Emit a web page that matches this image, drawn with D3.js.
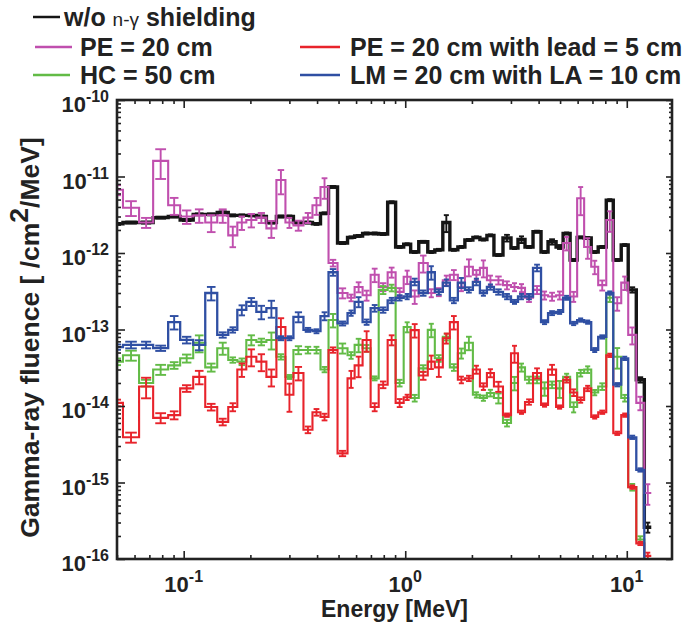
<!DOCTYPE html>
<html>
<head>
<meta charset="utf-8">
<script src="https://cdn.jsdelivr.net/npm/d3@7"></script>
<style>
  body { margin: 0; background: #fff; }
  text { font-family: "Liberation Sans", Arial, Helvetica, sans-serif; }
</style>
</head>
<body>
<div id="vis"></div>
<script>
// bin edges in MeV (shared by all series)
const energyEdges = [0.046, 0.0532, 0.0629, 0.0728, 0.0851, 0.0964, 0.1104, 0.1251, 0.1417, 0.1589,
  0.1746, 0.1917, 0.2128, 0.2362, 0.2621, 0.2879, 0.3128, 0.3472, 0.3813, 0.4145,
  0.4506, 0.4948, 0.549, 0.591, 0.642, 0.698, 0.759, 0.833, 0.905, 0.984,
  1.058, 1.151, 1.264, 1.360, 1.478, 1.590, 1.728, 1.859, 2.020, 2.173,
  2.337, 2.514, 2.762, 3.002, 3.228, 3.472, 3.774, 4.102, 4.412, 4.796,
  5.16, 5.55, 5.97, 6.42, 6.91, 7.43, 8.08, 8.69, 9.44, 10.15,
  11.04, 12.0, 12.9];

// w/o n-gamma shielding
const fluenceBare = [2.4e-12, 2.5e-12, 2.5e-12, 2.9e-12, 3.0e-12, 2.7e-12, 3.2e-12, 3.2e-12, 3.4e-12, 3.1e-12,
  3.1e-12, 3.1e-12, 3.0e-12, 2.5e-12, 3.0e-12, 3.0e-12, 2.5e-12, 2.5e-12, 2.4e-12, 3.3e-12,
  7.3e-12, 1.35e-12, 1.6e-12, 1.67e-12, 1.8e-12, 1.8e-12, 1.77e-12, 4.6e-12, 1.2e-12, 1.3e-12,
  1.03e-12, 1.4e-12, 1.03e-12, 1.1e-12, 2.5e-12, 1.1e-12, 1.2e-12, 1.48e-12, 1.6e-12, 1.5e-12,
  1.7e-12, 9.4e-13, 1.57e-12, 1.16e-12, 1.5e-12, 1.2e-12, 1.9e-12, 1.03e-12, 1.4e-12, 1.2e-12,
  1.8e-12, 8.1e-13, 1.6e-12, 1.57e-12, 1.03e-12, 1.2e-12, 4.9e-12, 8.1e-13, 1.27e-12, 3.3e-13,
  2.2e-14, 2.6e-16];
const errBare = [.03, .03, .03, .03, .03, .03, .03, .03, .03, .03,
  .03, .03, .03, .03, .03, .03, .03, .03, .03, .03,
  .03, .03, .03, .03, .03, .03, .03, .03, .03, .03,
  .03, .03, .03, .03, .25, .03, .03, .03, .03, .03,
  .03, .03, .10, .03, .10, .03, .03, .03, .08, .06,
  .03, .03, .03, .03, .03, .03, .03, .03, .03, .08,
  .08, .15];

// PE = 20 cm
const fluencePE = [6.7e-12, 3.9e-12, 2.5e-12, 1.6e-11, 4.2e-12, 3.0e-12, 3.1e-12, 2.5e-12, 3.1e-12, 1.7e-12,
  2.5e-12, 2.7e-12, 2.9e-12, 2.1e-12, 9.0e-12, 2.5e-12, 2.3e-12, 2.9e-12, 4.2e-12, 7.3e-12,
  7.4e-13, 3.0e-13, 2.6e-13, 3.6e-13, 2.8e-13, 5.2e-13, 3.6e-13, 5.6e-13, 3.1e-13, 4.9e-13,
  2.7e-13, 7.4e-13, 3.0e-13, 3.1e-13, 4.4e-13, 5.2e-13, 3.6e-13, 6.6e-13, 5.2e-13, 6.4e-13,
  4.4e-13, 4.4e-13, 3.8e-13, 3.6e-13, 3.5e-13, 2.6e-13, 3.3e-13, 2.8e-13, 2.7e-13, 2.8e-13,
  1.35e-12, 2.7e-13, 5.2e-12, 1.2e-12, 6.6e-13, 3.8e-13, 2.7e-12, 2.2e-13, 4.1e-13, 8.5e-14,
  1.1e-14, 7.3e-16];
const errPE = [.15, .22, .15, .42, .25, .2, .2, .25, .2, .3,
  .2, .2, .15, .25, .35, .15, .15, .15, .25, .3,
  .1, .15, .1, .15, .15, .2, .12, .15, .12, .2,
  .2, .25, .12, .12, .15, .15, .12, .25, .15, .25,
  .15, .12, .12, .12, .12, .12, .12, .12, .12, .12,
  .2, .15, .4, .3, .2, .15, .3, .2, .2, .25,
  .2, .3];

// HC = 50 cm
const fluenceHC = [3.8e-14, 4.6e-14, 2.0e-14, 3.0e-14, 3.4e-14, 4.2e-14, 6.7e-14, 3.2e-14, 5.7e-14, 4.0e-14,
  3.8e-14, 7.3e-14, 6.9e-14, 7.3e-14, 4.4e-14, 2.4e-14, 5.4e-14, 5.4e-14, 5.4e-14, 3.0e-14,
  1.33e-13, 5.7e-14, 4.6e-14, 6.3e-14, 5.7e-14, 2.3e-14, 3.3e-13, 3.5e-13, 2.0e-14, 1.08e-13,
  1.27e-14, 3.1e-14, 9.9e-14, 4.2e-14, 8.0e-14, 3.2e-14, 4.9e-14, 6.7e-14, 1.4e-14, 1.27e-14,
  1.48e-14, 1.27e-14, 6.0e-15, 2.0e-14, 3.2e-14, 2.2e-14, 2.2e-14, 1.7e-14, 1.9e-14, 1.7e-14,
  2.4e-14, 9.7e-15, 2.7e-14, 3.0e-14, 1.5e-14, 1.8e-14, 2.6e-13, 4.4e-14, 1.27e-14, 8.7e-16,
  1.8e-16, 1e-17];
const errHC = [.1, .15, .1, .15, .1, .12, .25, .12, .18, .08,
  .1, .15, .1, .25, .08, .06, .12, .1, .1, .08,
  .2, .15, .1, .2, .1, .06, .12, .1, .1, .15,
  .1, .1, .2, .1, .1, .1, .15, .2, .08, .08,
  .1, .15, .1, .2, .12, .1, .1, .2, .1, .25,
  .1, .15, .1, .1, .08, .1, .12, .3, .1, .1,
  .1, 0];

// PE = 20 cm with lead = 5 cm
const fluencePELead = [1.1e-14, 3.9e-15, 1.8e-14, 7.0e-15, 7.6e-15, 1.7e-14, 2.4e-14, 9.7e-15, 6.2e-15, 9.7e-15,
  3.0e-14, 4.4e-14, 3.8e-14, 2.4e-14, 1.08e-13, 1.4e-14, 2.7e-14, 4.9e-15, 8.3e-15, 7.2e-15,
  5.4e-14, 2.4e-15, 2.3e-14, 3.4e-14, 7.3e-14, 9.7e-15, 1.9e-14, 7.3e-14, 1.1e-14, 1.3e-14,
  9.8e-14, 2.5e-14, 3.8e-14, 3.2e-14, 7.7e-14, 1.25e-13, 2.2e-14, 2.3e-14, 3.0e-14, 1.8e-14,
  2.7e-14, 1.8e-14, 7.6e-15, 4.9e-14, 8.3e-15, 1.13e-14, 2.7e-14, 1.03e-14, 3.0e-14, 9.7e-15,
  2.2e-14, 1.5e-14, 1.2e-14, 1.7e-14, 7.2e-15, 8.3e-15, 4.6e-14, 4.4e-15, 7.6e-15, 8.7e-16,
  1.6e-16, 1.1e-16];
const errPELead = [.1, .15, .3, .15, .12, .1, .2, .1, .1, .12,
  .2, .25, .25, .25, .3, .4, .2, .1, .1, .1,
  .08, .08, .25, .3, .3, .12, .1, .15, .12, .08,
  .2, .12, .2, .25, .15, .2, .1, .08, .12, .1,
  .12, .15, .05, .25, .05, .08, .15, .05, .15, .05,
  .08, .1, .08, .08, .05, .05, .05, .05, .05, .05,
  .05, .1];

// LM = 20 cm with LA = 10 cm
const fluenceLM = [5.9e-14, 6.3e-14, 6.3e-14, 5.7e-14, 1.25e-13, 7.3e-14, 6.3e-14, 3.0e-13, 8.5e-14, 9.9e-14,
  1.8e-13, 2.3e-13, 1.7e-13, 1.9e-13, 7.7e-14, 7.7e-14, 1.46e-13, 9.9e-14, 9.5e-14, 1.5e-13,
  5.6e-13, 1.2e-13, 1.64e-13, 2.3e-13, 1.25e-13, 1.9e-13, 1.8e-13, 2.4e-13, 2.6e-13, 2.7e-13,
  4.2e-13, 3.0e-13, 5.6e-13, 3.1e-13, 4.1e-13, 2.4e-13, 4.1e-13, 3.3e-13, 4.2e-13, 3.0e-13,
  3.6e-13, 3.1e-13, 2.7e-13, 2.3e-13, 2.7e-13, 2.7e-13, 6.4e-13, 1.25e-13, 1.64e-13, 1.7e-13,
  2.6e-13, 1.2e-13, 1.33e-13, 1.25e-13, 5.4e-14, 8.0e-14, 3.0e-13, 1.9e-14, 4.2e-14, 3.9e-15,
  1.46e-15, 1e-17];
const errLM = [.08, .1, .1, .08, .2, .1, .15, .2, .08, .08,
  .15, .12, .2, .25, .06, .06, .15, .06, .06, .12,
  .1, .06, .08, .15, .08, .1, .08, .08, .08, .08,
  .1, .08, .2, .08, .1, .08, .15, .08, .1, .08,
  .08, .08, .08, .06, .08, .08, .1, .06, .06, .06,
  .06, .05, .05, .05, .06, .05, .05, .05, .05, .05,
  .05, 0];

const xMajorTicks = [0.1, 1, 10];
const xTickExponents = ["-1", "0", "1"];
const yMajorTicks = [1e-10, 1e-11, 1e-12, 1e-13, 1e-14, 1e-15, 1e-16];
const yTickExponents = ["-10", "-11", "-12", "-13", "-14", "-15", "-16"];

const width = 689, height = 630;
const margin = {top: 100, right: 17, bottom: 71, left: 117};

const svg = d3.create("svg")
  .attr("width", width)
  .attr("height", height);

const x = d3.scaleLog()
  .domain([0.05, 16])
  .range([margin.left, width - margin.right]);
const y = d3.scaleLog()
  .domain([1e-16, 1e-10])
  .range([height - margin.bottom, margin.top]);

svg.append("clipPath").attr("id", "plot-clip")
  .append("rect")
  .attr("x", margin.left).attr("y", margin.top)
  .attr("width", width - margin.left - margin.right)
  .attr("height", height - margin.top - margin.bottom);

// minor tick positions (2..9 times each decade)
const xMinor = [];
[0.01, 0.1, 1, 10].forEach(d => { for (let k = 2; k <= 9; k++) { const v = d * k; if (v >= 0.05 && v <= 16) xMinor.push(v); } });
const yMinor = [];
yMajorTicks.slice(1).forEach(d => { for (let k = 2; k <= 9; k++) yMinor.push(d * k); });

const series = [
  {values: fluenceBare, errs: errBare, color: "#151515", w: 3.4},
  {values: fluencePE, errs: errPE, color: "#c04fae", w: 2.1},
  {values: fluenceHC, errs: errHC, color: "#62bb46", w: 2.1},
  {values: fluencePELead, errs: errPELead, color: "#e8232b", w: 2.1},
  {values: fluenceLM, errs: errLM, color: "#2f4fa3", w: 2.3}
];

const plot = svg.append("g").attr("clip-path", "url(#plot-clip)");
const floorV = 1e-18;

series.forEach(s => {
  const g = plot.append("g");
  const n = s.values.length;
  const pts = energyEdges.map((e, i) => [e, s.values[Math.min(i, n - 1)]]);
  const line = d3.line()
    .x(d => x(d[0]))
    .y(d => y(Math.max(d[1], floorV)))
    .curve(d3.curveStepAfter);
  g.append("path")
    .attr("d", line(pts))
    .attr("fill", "none")
    .attr("stroke", s.color)
    .attr("stroke-width", s.w);

  const bins = s.values.map((v, i) => ({v: v, e: s.errs[i], lo: energyEdges[i], hi: energyEdges[i + 1]}))
    .filter(d => d.e > 0);
  const eb = g.selectAll("g.eb").data(bins).join("g").attr("class", "eb")
    .attr("stroke", s.color)
    .attr("stroke-width", 1.9);
  eb.append("line")
    .attr("x1", d => (x(d.lo) + x(d.hi)) / 2)
    .attr("x2", d => (x(d.lo) + x(d.hi)) / 2)
    .attr("y1", d => y(d.v * (1 + d.e)))
    .attr("y2", d => y(Math.max(d.v * (1 - d.e), floorV)));
  [1, -1].forEach(sign => {
    eb.append("line")
      .attr("x1", d => (x(d.lo) + x(d.hi)) / 2 - (x(d.hi) - x(d.lo)) * 0.36)
      .attr("x2", d => (x(d.lo) + x(d.hi)) / 2 + (x(d.hi) - x(d.lo)) * 0.36)
      .attr("y1", d => y(Math.max(d.v * (1 + sign * d.e), floorV)))
      .attr("y2", d => y(Math.max(d.v * (1 + sign * d.e), floorV)));
  });
});

// axes: ticks pointing inward on all four sides
const bottom = height - margin.bottom, right = width - margin.right;
const axisStyle = g => g.call(g => g.select(".domain").remove())
  .call(g => g.selectAll(".tick line").attr("stroke", "#222").attr("stroke-width", 1.6));

svg.append("g").attr("transform", `translate(0,${bottom})`)
  .call(d3.axisBottom(x).tickValues(xMinor).tickSize(-4).tickFormat("")).call(axisStyle);
svg.append("g").attr("transform", `translate(0,${bottom})`)
  .call(d3.axisBottom(x).tickValues(xMajorTicks).tickSize(-8).tickFormat("")).call(axisStyle);
svg.append("g").attr("transform", `translate(0,${margin.top})`)
  .call(d3.axisTop(x).tickValues(xMinor).tickSize(-4).tickFormat("")).call(axisStyle);
svg.append("g").attr("transform", `translate(0,${margin.top})`)
  .call(d3.axisTop(x).tickValues(xMajorTicks).tickSize(-8).tickFormat("")).call(axisStyle);
svg.append("g").attr("transform", `translate(${margin.left},0)`)
  .call(d3.axisLeft(y).tickValues(yMinor).tickSize(-4).tickFormat("")).call(axisStyle);
svg.append("g").attr("transform", `translate(${margin.left},0)`)
  .call(d3.axisLeft(y).tickValues(yMajorTicks).tickSize(-8).tickFormat("")).call(axisStyle);
svg.append("g").attr("transform", `translate(${right},0)`)
  .call(d3.axisRight(y).tickValues(yMinor).tickSize(-3).tickFormat("")).call(axisStyle);
svg.append("g").attr("transform", `translate(${right},0)`)
  .call(d3.axisRight(y).tickValues(yMajorTicks).tickSize(-6).tickFormat("")).call(axisStyle);

svg.append("rect")
  .attr("x", margin.left).attr("y", margin.top)
  .attr("width", right - margin.left).attr("height", bottom - margin.top)
  .attr("fill", "none").attr("stroke", "#222").attr("stroke-width", 2.6);

// tick labels
xMajorTicks.forEach((v, i) => {
  const t = svg.append("text")
    .attr("x", x(v)).attr("y", bottom + 33)
    .attr("text-anchor", "middle")
    .attr("font-size", 22).attr("font-weight", 700).attr("fill", "#222");
  t.append("tspan").text("10");
  t.append("tspan").attr("dy", -10).attr("font-size", 16).text(xTickExponents[i]);
});
yMajorTicks.forEach((v, i) => {
  const t = svg.append("text")
    .attr("x", margin.left - 8).attr("y", y(v) + 12)
    .attr("text-anchor", "end")
    .attr("font-size", 22).attr("font-weight", 700).attr("fill", "#222");
  t.append("tspan").text("10");
  t.append("tspan").attr("dy", -10).attr("font-size", 16).text(yTickExponents[i]);
});

// axis titles
svg.append("text")
  .attr("x", (margin.left + right) / 2).attr("y", height - 13)
  .attr("text-anchor", "middle")
  .attr("font-size", 23).attr("font-weight", 700).attr("fill", "#222")
  .text("Energy [MeV]");

const yt = svg.append("text")
  .attr("transform", `translate(39,${(margin.top + bottom) / 2 + 8}) rotate(-90)`)
  .attr("text-anchor", "middle")
  .attr("font-size", 26.5).attr("font-weight", 700).attr("fill", "#222");
yt.append("tspan").text("Gamma-ray fluence [ /cm");
yt.append("tspan").attr("dy", -11).text("2");
yt.append("tspan").attr("dy", 11).text("/MeV]");

// legend
const legend = [
  {color: "#151515", x1: 33, x2: 60, y: 17, tx: 64},
  {color: "#c04fae", x1: 35, x2: 72, y: 47, tx: 80, label: "PE = 20 cm"},
  {color: "#62bb46", x1: 33, x2: 70, y: 75, tx: 80, label: "HC = 50 cm"},
  {color: "#e8232b", x1: 300, x2: 340, y: 47, tx: 350, label: "PE = 20 cm with lead = 5 cm"},
  {color: "#2f4fa3", x1: 300, x2: 340, y: 75, tx: 350, label: "LM = 20 cm with LA = 10 cm"}
];
legend.forEach((d, i) => {
  svg.append("line")
    .attr("x1", d.x1).attr("x2", d.x2).attr("y1", d.y).attr("y2", d.y)
    .attr("stroke", d.color).attr("stroke-width", 2.5);
  const t = svg.append("text")
    .attr("x", d.tx).attr("y", d.y + 9)
    .attr("font-size", 25).attr("font-weight", 700).attr("fill", "#222");
  if (i === 0) {
    t.append("tspan").text("w/o ");
    t.append("tspan").attr("font-size", 19).attr("font-weight", 400).text("n-\u03b3");
    t.append("tspan").text(" shielding");
  } else {
    t.text(d.label);
  }
});

document.getElementById("vis").appendChild(svg.node());
</script>
</body>
</html>
